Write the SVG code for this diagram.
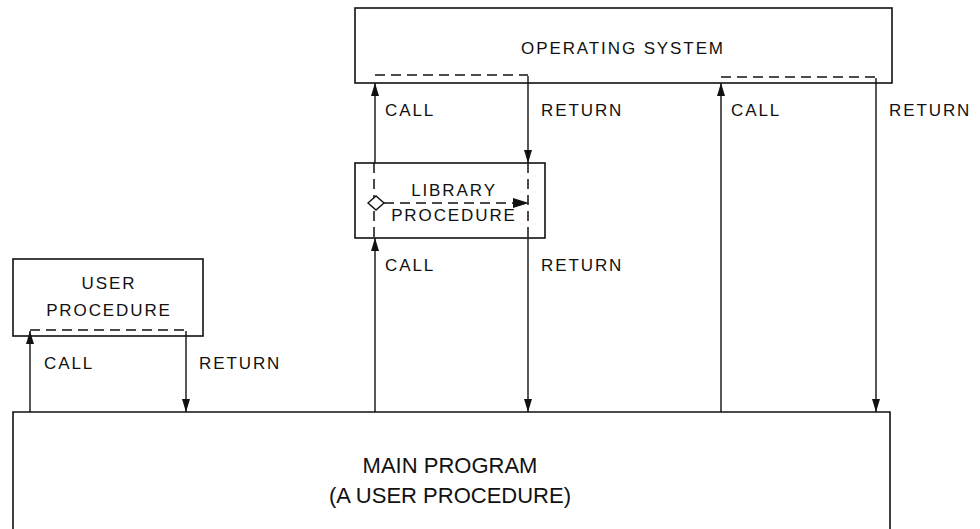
<svg xmlns="http://www.w3.org/2000/svg" width="980" height="529" viewBox="0 0 980 529">
<defs>
<marker id="ah" markerUnits="userSpaceOnUse" markerWidth="14" markerHeight="10" refX="13" refY="4" orient="auto">
<path d="M0,0 L13,4 L0,8 Z" fill="#111"/>
</marker>
<style>
.box{fill:#fff;stroke:#111;stroke-width:1.6}
.ln{fill:none;stroke:#111;stroke-width:1.4}
.dash{fill:none;stroke:#111;stroke-width:1.5;stroke-dasharray:10,6}
.t{font-family:"Liberation Sans",Arial,sans-serif;font-size:17px;letter-spacing:1.9px;fill:#111}
.tc{text-anchor:middle}
.tm{font-family:"Liberation Sans",Arial,sans-serif;font-size:22px;fill:#111;text-anchor:middle}
</style>
</defs>
<rect width="980" height="529" fill="#fff"/>
<g id="os">
<rect class="box" x="355" y="8" width="537" height="75"/>
<text class="t tc" x="623" y="54">OPERATING SYSTEM</text>
<path class="dash" d="M375,75 H528"/>
<path class="dash" d="M721,77 H876"/>
</g>
<g id="library">
<rect class="box" x="355" y="163" width="190" height="75"/>
<text class="t tc" x="454" y="196">LIBRARY</text>
<text class="t tc" x="454" y="221">PROCEDURE</text>
<path class="dash" d="M374,163 V238"/>
<path class="dash" d="M528,163 V238"/>
<path d="M368,203 L376,196 L384,203 L376,210 Z" fill="#fff" stroke="#111" stroke-width="1.4"/>
<path class="dash" d="M384,203 H516"/>
<path d="M513,198 L529,203 L513,208 Z" fill="#111"/>
</g>
<g id="user">
<rect class="box" x="13" y="259" width="190" height="77"/>
<text class="t tc" x="109" y="289">USER</text>
<text class="t tc" x="109" y="316">PROCEDURE</text>
<path class="dash" d="M30,330 H186"/>
</g>
<g id="main">
<path class="box" d="M13,540 V412 H890 V540"/>
<text class="tm" x="450" y="473">MAIN PROGRAM</text>
<text class="tm" x="450" y="503">(A USER PROCEDURE)</text>
</g>
<g id="connectors">
<path class="ln" d="M30,412 V331" marker-end="url(#ah)"/>
<path class="ln" d="M186,331 V412" marker-end="url(#ah)"/>
<path class="ln" d="M375,412 V238" marker-end="url(#ah)"/>
<path class="ln" d="M528,238 V412" marker-end="url(#ah)"/>
<path class="ln" d="M375,163 V83" marker-end="url(#ah)"/>
<path class="ln" d="M528,76 V163" marker-end="url(#ah)"/>
<path class="ln" d="M721,412 V83" marker-end="url(#ah)"/>
<path class="ln" d="M876,78 V412" marker-end="url(#ah)"/>
</g>
<g id="labels">
<text class="t" x="385" y="116">CALL</text>
<text class="t" x="541" y="116">RETURN</text>
<text class="t" x="731" y="116">CALL</text>
<text class="t" x="889" y="116">RETURN</text>
<text class="t" x="385" y="271">CALL</text>
<text class="t" x="541" y="271">RETURN</text>
<text class="t" x="44" y="369">CALL</text>
<text class="t" x="199" y="369">RETURN</text>
</g>
</svg>
